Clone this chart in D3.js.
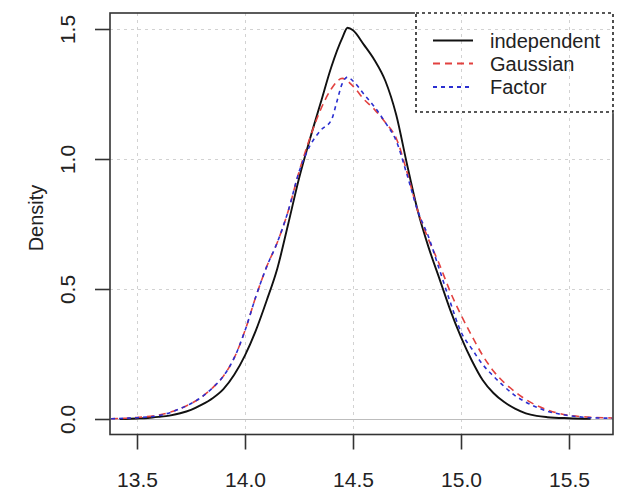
<!DOCTYPE html>
<html>
<head>
<meta charset="utf-8">
<script src="https://cdn.jsdelivr.net/npm/d3@7"></script>
<style>
  html, body { margin: 0; padding: 0; background: #fff; }
  svg { display: block; font-family: "Liberation Sans", Arial, Helvetica, sans-serif; }
</style>
</head>
<body>
<svg id="chart" width="621" height="494"></svg>
<script>
// ---- data ----
const seriesNames = ["independent", "Gaussian", "Factor"];

const independentX = [13.42, 13.5, 13.55, 13.6, 13.65, 13.7, 13.75, 13.8, 13.85, 13.9, 13.95, 14.0, 14.05, 14.1, 14.15, 14.2, 14.25, 14.3, 14.35, 14.4, 14.45, 14.475, 14.5, 14.55, 14.6, 14.65, 14.7, 14.75, 14.8, 14.85, 14.9, 14.95, 15.0, 15.05, 15.1, 15.15, 15.2, 15.25, 15.3, 15.35, 15.4, 15.5, 15.6];
const independentY = [0.000, 0.002, 0.004, 0.008, 0.013, 0.022, 0.035, 0.055, 0.08, 0.115, 0.17, 0.245, 0.34, 0.455, 0.58, 0.75, 0.925, 1.075, 1.215, 1.355, 1.465, 1.505, 1.495, 1.44, 1.38, 1.30, 1.17, 0.98, 0.80, 0.66, 0.54, 0.42, 0.315, 0.225, 0.15, 0.10, 0.065, 0.04, 0.022, 0.012, 0.007, 0.003, 0.001];

const gaussianX = [13.38, 13.45, 13.5, 13.6, 13.7, 13.8, 13.85, 13.9, 13.95, 14.0, 14.05, 14.1, 14.15, 14.2, 14.25, 14.3, 14.35, 14.4, 14.45, 14.5, 14.55, 14.6, 14.65, 14.7, 14.75, 14.8, 14.85, 14.9, 14.95, 15.0, 15.05, 15.1, 15.15, 15.2, 15.25, 15.3, 15.35, 15.4, 15.45, 15.5, 15.6, 15.7];
const gaussianY = [0.001, 0.003, 0.006, 0.015, 0.04, 0.085, 0.12, 0.165, 0.235, 0.34, 0.47, 0.585, 0.68, 0.80, 0.95, 1.08, 1.19, 1.27, 1.31, 1.28, 1.23, 1.19, 1.14, 1.08, 0.95, 0.80, 0.69, 0.595, 0.49, 0.40, 0.32, 0.245, 0.185, 0.14, 0.105, 0.075, 0.052, 0.035, 0.022, 0.014, 0.007, 0.004];

const factorX = [13.38, 13.45, 13.5, 13.6, 13.7, 13.8, 13.85, 13.9, 13.95, 14.0, 14.05, 14.1, 14.15, 14.2, 14.25, 14.3, 14.35, 14.4, 14.425, 14.45, 14.475, 14.5, 14.55, 14.6, 14.65, 14.7, 14.75, 14.8, 14.85, 14.9, 14.95, 15.0, 15.05, 15.1, 15.15, 15.2, 15.25, 15.3, 15.35, 15.4, 15.45, 15.5, 15.55, 15.6, 15.7];
const factorY = [0.001, 0.003, 0.005, 0.013, 0.04, 0.085, 0.12, 0.165, 0.235, 0.34, 0.47, 0.585, 0.68, 0.80, 0.95, 1.05, 1.11, 1.15, 1.22, 1.29, 1.315, 1.30, 1.25, 1.20, 1.14, 1.07, 0.94, 0.80, 0.70, 0.575, 0.45, 0.335, 0.27, 0.21, 0.165, 0.125, 0.09, 0.065, 0.045, 0.03, 0.02, 0.013, 0.008, 0.005, 0.003];

const xTicks = [13.5, 14.0, 14.5, 15.0, 15.5];
const yTicks = [0.0, 0.5, 1.0, 1.5];
const yLabel = "Density";

// ---- layout ----
const svg = d3.select("#chart");
const pL = 110, pR = 613, pT = 13, pB = 434.5;

const x = d3.scaleLinear().domain([13.375, 13.375 + (pR - pL) / 216]).range([pL, pR]);
const y = d3.scaleLinear().domain([0, 1.5]).range([419, 29]);

svg.append("defs").append("clipPath").attr("id", "plotclip")
  .append("rect").attr("x", pL).attr("y", pT).attr("width", pR - pL).attr("height", pB - pT);

// legend geometry
const lg = { x0: 416, y0: 13, x1: 613, y1: 112 };

// legend background (white)
svg.append("rect").attr("x", lg.x0).attr("y", lg.y0)
  .attr("width", lg.x1 - lg.x0).attr("height", lg.y1 - lg.y0).attr("fill", "#fff");

// grid
const grid = svg.append("g").attr("stroke", "#d2d2d2").attr("stroke-width", 1).attr("stroke-dasharray", "3,4");
grid.selectAll("line.v").data(xTicks).join("line").attr("class", "v")
  .attr("x1", d => Math.round(x(d)) + 0.5).attr("x2", d => Math.round(x(d)) + 0.5)
  .attr("y1", pT).attr("y2", pB);
grid.selectAll("line.h").data(yTicks).join("line").attr("class", "h")
  .attr("y1", d => Math.round(y(d)) + 0.5).attr("y2", d => Math.round(y(d)) + 0.5)
  .attr("x1", pL).attr("x2", pR);

// zero line
svg.append("line").attr("x1", pL).attr("x2", pR)
  .attr("y1", Math.round(y(0)) + 0.5).attr("y2", Math.round(y(0)) + 0.5)
  .attr("stroke", "#bdbdbd").attr("stroke-width", 1.2);

// curves
const series = [
  { name: seriesNames[0], xs: independentX, ys: independentY, color: "#111", dash: null, w: 1.9 },
  { name: seriesNames[1], xs: gaussianX, ys: gaussianY, color: "#e2413f", dash: "7,5", w: 1.6 },
  { name: seriesNames[2], xs: factorX, ys: factorY, color: "#2b2fd0", dash: "4,4", w: 1.6 }
];
const line = d3.line().x(d => x(d[0])).y(d => y(d[1])).curve(d3.curveMonotoneX);
const curves = svg.append("g").attr("clip-path", "url(#plotclip)");
series.forEach(s => {
  curves.append("path")
    .datum(s.xs.map((v, i) => [v, s.ys[i]]))
    .attr("d", line)
    .attr("fill", "none")
    .attr("stroke", s.color)
    .attr("stroke-width", s.w)
    .attr("stroke-dasharray", s.dash);
});

// box
svg.append("rect").attr("x", pL).attr("y", pT)
  .attr("width", pR - pL).attr("height", pB - pT)
  .attr("fill", "none").attr("stroke", "#333").attr("stroke-width", 1.6);

// legend: cover box edges then dotted border
svg.append("rect").attr("x", lg.x0).attr("y", lg.y0)
  .attr("width", lg.x1 - lg.x0).attr("height", lg.y1 - lg.y0)
  .attr("fill", "none").attr("stroke", "#fff").attr("stroke-width", 2.2);
svg.append("rect").attr("x", lg.x0).attr("y", lg.y0)
  .attr("width", lg.x1 - lg.x0).attr("height", lg.y1 - lg.y0)
  .attr("fill", "none").attr("stroke", "#222").attr("stroke-width", 1.6)
  .attr("stroke-dasharray", "3,3");

const rowY = [40.5, 63.5, 87];
series.forEach((s, i) => {
  svg.append("line").attr("x1", 433).attr("x2", 473)
    .attr("y1", rowY[i]).attr("y2", rowY[i])
    .attr("stroke", s.color).attr("stroke-width", s.w + 0.3)
    .attr("stroke-dasharray", s.dash);
  svg.append("text").attr("x", 490).attr("y", rowY[i] + 7)
    .attr("font-size", 20).attr("fill", "#222").text(s.name);
});

// axes
const xAxis = d3.axisBottom(x).tickValues(xTicks).tickSize(15).tickFormat(d3.format(".1f"));
const gx = svg.append("g").attr("transform", `translate(0,${pB})`).call(xAxis);
gx.select(".domain").remove();
gx.selectAll(".tick line").attr("stroke", "#333").attr("stroke-width", 1.6);
gx.selectAll(".tick text").attr("y", 52).attr("dy", null)
  .attr("font-size", 21).attr("fill", "#222").attr("font-family", "Liberation Sans, Arial, sans-serif");

const yAxis = d3.axisLeft(y).tickValues(yTicks).tickSize(15).tickFormat(d3.format(".1f"));
const gy = svg.append("g").attr("transform", `translate(${pL},0)`).call(yAxis);
gy.select(".domain").remove();
gy.selectAll(".tick line").attr("stroke", "#333").attr("stroke-width", 1.6);
gy.selectAll(".tick text").attr("x", null).attr("dy", null)
  .attr("text-anchor", "middle")
  .attr("transform", "translate(-35,0) rotate(-90)")
  .attr("font-size", 21).attr("fill", "#222").attr("font-family", "Liberation Sans, Arial, sans-serif");

svg.append("text")
  .attr("transform", "translate(43,218) rotate(-90)")
  .attr("text-anchor", "middle").attr("font-size", 20).attr("fill", "#222")
  .text(yLabel);
</script>
</body>
</html>
